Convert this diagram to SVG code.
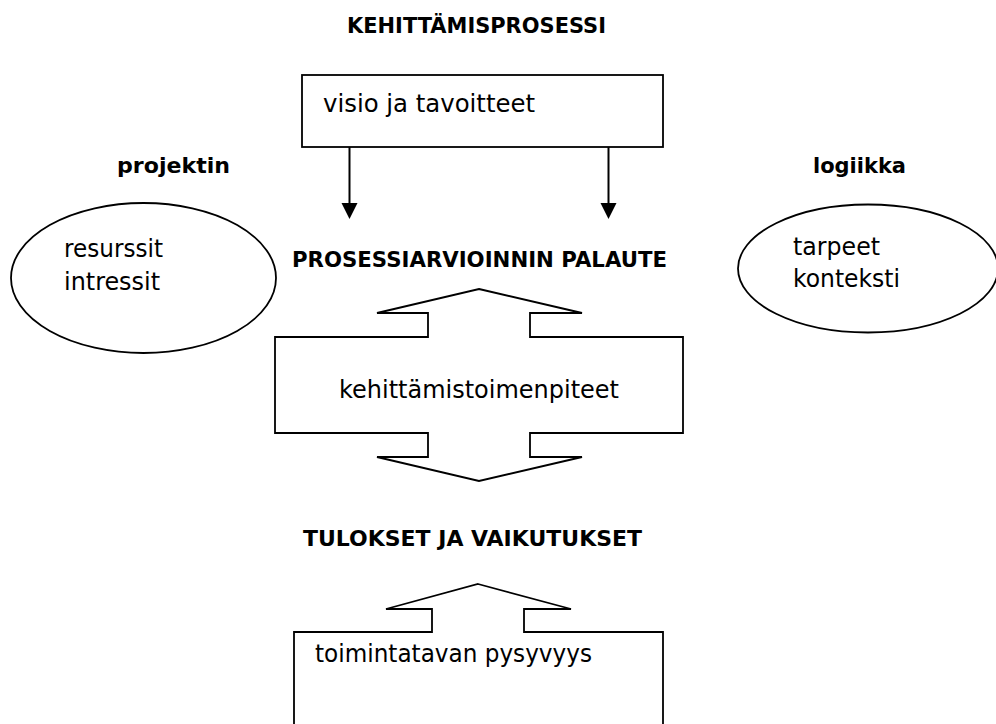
<svg xmlns="http://www.w3.org/2000/svg" width="996" height="724" viewBox="0 0 996 724">
<style>
.s{fill:#fff;stroke:#000;stroke-width:1.8}
.t{font-family:"DejaVu Sans",sans-serif;font-size:24px;fill:#000}
.b{font-family:"DejaVu Sans",sans-serif;font-size:22px;font-weight:bold;fill:#000}
.c{stroke:#000;stroke-width:2;fill:none}
</style>
<rect width="996" height="724" fill="#fff"/>
<text class="b" x="347" y="33" textLength="259" lengthAdjust="spacingAndGlyphs">KEHITTÄMISPROSESSI</text>
<text class="b" x="117" y="173" textLength="113" lengthAdjust="spacingAndGlyphs">projektin</text>
<text class="b" x="813" y="173" textLength="93" lengthAdjust="spacingAndGlyphs">logiikka</text>
<text class="b" x="292" y="267" textLength="375" lengthAdjust="spacingAndGlyphs">PROSESSIARVIOINNIN PALAUTE</text>
<text class="b" x="303" y="546" textLength="339" lengthAdjust="spacingAndGlyphs">TULOKSET JA VAIKUTUKSET</text>
<g id="visio">
<rect class="s" x="302" y="75" width="361" height="72"/>
<text class="t" x="323" y="112" textLength="212" lengthAdjust="spacingAndGlyphs">visio ja tavoitteet</text>
</g>
<g id="resurssit">
<ellipse class="s" cx="143.5" cy="278" rx="132.5" ry="75"/>
<text class="t" x="64" y="257" textLength="99" lengthAdjust="spacingAndGlyphs">resurssit</text>
<text class="t" x="64" y="290" textLength="96" lengthAdjust="spacingAndGlyphs">intressit</text>
</g>
<g id="tarpeet">
<ellipse class="s" cx="868" cy="268.5" rx="130" ry="64"/>
<text class="t" x="793" y="255" textLength="87" lengthAdjust="spacingAndGlyphs">tarpeet</text>
<text class="t" x="793" y="287" textLength="107" lengthAdjust="spacingAndGlyphs">konteksti</text>
</g>
<g id="kehittamistoimenpiteet">
<polygon class="s" points="479,289 582,313 530,313 530,337 683,337 683,433 530,433 530,457 582,457 479,481 377,457 428,457 428,433 275,433 275,337 428,337 428,313 377,313"/>
<text class="t" x="339" y="398" textLength="280" lengthAdjust="spacingAndGlyphs">kehittämistoimenpiteet</text>
</g>
<g id="pysyvyys">
<polygon class="s" points="478,584 571,609 524,609 524,632 663,632 663,730 294,730 294,632 432,632 432,609 386,609"/>
<text class="t" x="315" y="662" textLength="277" lengthAdjust="spacingAndGlyphs">toimintatavan pysyvyys</text>
</g>
<g id="connectors">
<line class="c" x1="349.5" y1="147" x2="349.5" y2="205"/>
<polygon points="341.5,203 357.5,203 349.5,219"/>
<line class="c" x1="608.5" y1="147" x2="608.5" y2="205"/>
<polygon points="600.5,203 616.5,203 608.5,219"/>
</g>
</svg>
